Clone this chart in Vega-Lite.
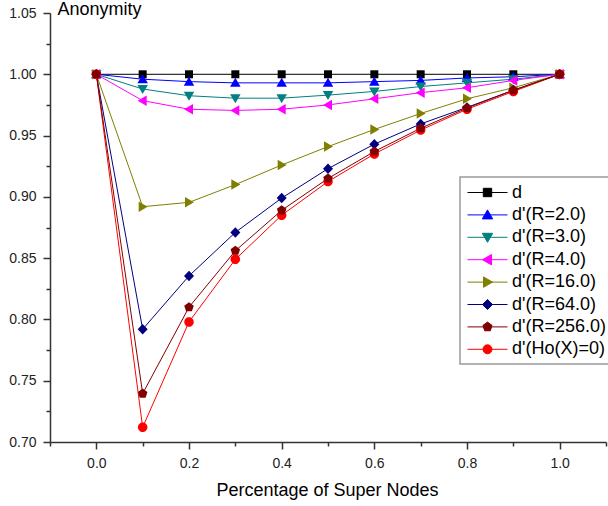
{
  "$schema": "https://vega.github.io/schema/vega-lite/v6.json",
  "width": 556,
  "height": 429,
  "autosize": {"type": "none"},
  "padding": {"left": 50, "top": 13, "right": 2, "bottom": 64},
  "background": "white",
  "config": {
    "view": {"stroke": null},
    "font": "Liberation Sans",
    "axis": {
      "grid": false,
      "domainColor": "#333333",
      "domainWidth": 1.5,
      "tickColor": "#333333",
      "tickWidth": 1.5,
      "labelFont": "Liberation Sans",
      "labelFontSize": 14,
      "labelColor": "#222222",
      "titleFont": "Liberation Sans",
      "titleFontSize": 18,
      "titleFontWeight": "normal",
      "titleColor": "#000000"
    }
  },
  "data": {
    "values": [
      {"x": 0.0, "y": 1.0, "s": "d"},
      {"x": 0.1, "y": 1.0, "s": "d"},
      {"x": 0.2, "y": 1.0, "s": "d"},
      {"x": 0.3, "y": 1.0, "s": "d"},
      {"x": 0.4, "y": 1.0, "s": "d"},
      {"x": 0.5, "y": 1.0, "s": "d"},
      {"x": 0.6, "y": 1.0, "s": "d"},
      {"x": 0.7, "y": 1.0, "s": "d"},
      {"x": 0.8, "y": 1.0, "s": "d"},
      {"x": 0.9, "y": 1.0, "s": "d"},
      {"x": 1.0, "y": 1.0, "s": "d"},

      {"x": 0.0, "y": 1.0, "s": "d'(R=2.0)"},
      {"x": 0.1, "y": 0.996, "s": "d'(R=2.0)"},
      {"x": 0.2, "y": 0.994, "s": "d'(R=2.0)"},
      {"x": 0.3, "y": 0.993, "s": "d'(R=2.0)"},
      {"x": 0.4, "y": 0.993, "s": "d'(R=2.0)"},
      {"x": 0.5, "y": 0.993, "s": "d'(R=2.0)"},
      {"x": 0.6, "y": 0.994, "s": "d'(R=2.0)"},
      {"x": 0.7, "y": 0.995, "s": "d'(R=2.0)"},
      {"x": 0.8, "y": 0.997, "s": "d'(R=2.0)"},
      {"x": 0.9, "y": 0.998, "s": "d'(R=2.0)"},
      {"x": 1.0, "y": 1.0, "s": "d'(R=2.0)"},

      {"x": 0.0, "y": 1.0, "s": "d'(R=3.0)"},
      {"x": 0.1, "y": 0.988, "s": "d'(R=3.0)"},
      {"x": 0.2, "y": 0.9825, "s": "d'(R=3.0)"},
      {"x": 0.3, "y": 0.9805, "s": "d'(R=3.0)"},
      {"x": 0.4, "y": 0.9805, "s": "d'(R=3.0)"},
      {"x": 0.5, "y": 0.983, "s": "d'(R=3.0)"},
      {"x": 0.6, "y": 0.986, "s": "d'(R=3.0)"},
      {"x": 0.7, "y": 0.99, "s": "d'(R=3.0)"},
      {"x": 0.8, "y": 0.993, "s": "d'(R=3.0)"},
      {"x": 0.9, "y": 0.996, "s": "d'(R=3.0)"},
      {"x": 1.0, "y": 1.0, "s": "d'(R=3.0)"},

      {"x": 0.0, "y": 1.0, "s": "d'(R=4.0)"},
      {"x": 0.1, "y": 0.9785, "s": "d'(R=4.0)"},
      {"x": 0.2, "y": 0.9715, "s": "d'(R=4.0)"},
      {"x": 0.3, "y": 0.9705, "s": "d'(R=4.0)"},
      {"x": 0.4, "y": 0.9715, "s": "d'(R=4.0)"},
      {"x": 0.5, "y": 0.975, "s": "d'(R=4.0)"},
      {"x": 0.6, "y": 0.98, "s": "d'(R=4.0)"},
      {"x": 0.7, "y": 0.985, "s": "d'(R=4.0)"},
      {"x": 0.8, "y": 0.989, "s": "d'(R=4.0)"},
      {"x": 0.9, "y": 0.995, "s": "d'(R=4.0)"},
      {"x": 1.0, "y": 1.0, "s": "d'(R=4.0)"},

      {"x": 0.0, "y": 1.0, "s": "d'(R=16.0)"},
      {"x": 0.1, "y": 0.892, "s": "d'(R=16.0)"},
      {"x": 0.2, "y": 0.8955, "s": "d'(R=16.0)"},
      {"x": 0.3, "y": 0.91, "s": "d'(R=16.0)"},
      {"x": 0.4, "y": 0.926, "s": "d'(R=16.0)"},
      {"x": 0.5, "y": 0.941, "s": "d'(R=16.0)"},
      {"x": 0.6, "y": 0.955, "s": "d'(R=16.0)"},
      {"x": 0.7, "y": 0.968, "s": "d'(R=16.0)"},
      {"x": 0.8, "y": 0.98, "s": "d'(R=16.0)"},
      {"x": 0.9, "y": 0.989, "s": "d'(R=16.0)"},
      {"x": 1.0, "y": 1.0, "s": "d'(R=16.0)"},

      {"x": 0.0, "y": 1.0, "s": "d'(R=64.0)"},
      {"x": 0.1, "y": 0.792, "s": "d'(R=64.0)"},
      {"x": 0.2, "y": 0.8355, "s": "d'(R=64.0)"},
      {"x": 0.3, "y": 0.871, "s": "d'(R=64.0)"},
      {"x": 0.4, "y": 0.899, "s": "d'(R=64.0)"},
      {"x": 0.5, "y": 0.923, "s": "d'(R=64.0)"},
      {"x": 0.6, "y": 0.943, "s": "d'(R=64.0)"},
      {"x": 0.7, "y": 0.9595, "s": "d'(R=64.0)"},
      {"x": 0.8, "y": 0.973, "s": "d'(R=64.0)"},
      {"x": 0.9, "y": 0.987, "s": "d'(R=64.0)"},
      {"x": 1.0, "y": 1.0, "s": "d'(R=64.0)"},

      {"x": 0.0, "y": 1.0, "s": "d'(Ho(X)=0)"},
      {"x": 0.1, "y": 0.712, "s": "d'(Ho(X)=0)"},
      {"x": 0.2, "y": 0.798, "s": "d'(Ho(X)=0)"},
      {"x": 0.3, "y": 0.849, "s": "d'(Ho(X)=0)"},
      {"x": 0.4, "y": 0.885, "s": "d'(Ho(X)=0)"},
      {"x": 0.5, "y": 0.9125, "s": "d'(Ho(X)=0)"},
      {"x": 0.6, "y": 0.935, "s": "d'(Ho(X)=0)"},
      {"x": 0.7, "y": 0.9545, "s": "d'(Ho(X)=0)"},
      {"x": 0.8, "y": 0.9715, "s": "d'(Ho(X)=0)"},
      {"x": 0.9, "y": 0.986, "s": "d'(Ho(X)=0)"},
      {"x": 1.0, "y": 1.0, "s": "d'(Ho(X)=0)"},

      {"x": 0.0, "y": 1.0, "s": "d'(R=256.0)"},
      {"x": 0.1, "y": 0.7395, "s": "d'(R=256.0)"},
      {"x": 0.2, "y": 0.81, "s": "d'(R=256.0)"},
      {"x": 0.3, "y": 0.856, "s": "d'(R=256.0)"},
      {"x": 0.4, "y": 0.889, "s": "d'(R=256.0)"},
      {"x": 0.5, "y": 0.915, "s": "d'(R=256.0)"},
      {"x": 0.6, "y": 0.937, "s": "d'(R=256.0)"},
      {"x": 0.7, "y": 0.956, "s": "d'(R=256.0)"},
      {"x": 0.8, "y": 0.9725, "s": "d'(R=256.0)"},
      {"x": 0.9, "y": 0.987, "s": "d'(R=256.0)"},
      {"x": 1.0, "y": 1.0, "s": "d'(R=256.0)"}
    ]
  },
  "encoding": {
    "x": {
      "field": "x",
      "type": "quantitative",
      "title": "Percentage of Super Nodes",
      "scale": {"domain": [-0.1, 1.1], "nice": false, "zero": false},
      "axis": {
        "values": [-0.1, 0, 0.1, 0.2, 0.3, 0.4, 0.5, 0.6, 0.7, 0.8, 0.9, 1.0, 1.1],
        "format": ".1f",
        "labelExpr": "(abs(datum.value * 10 - round(datum.value * 5) * 2) < 0.01 && datum.value > -0.05 && datum.value < 1.05) ? datum.label : ''",
        "tickSize": {"condition": {"test": "abs(datum.value * 10 - round(datum.value * 5) * 2) < 0.01", "value": 7}, "value": 4},
        "labelPadding": 7,
        "labelFlush": false,
        "titleBaseline": "alphabetic",
        "titleX": 277,
        "titleY": 53
      }
    },
    "y": {
      "field": "y",
      "type": "quantitative",
      "title": "Anonymity",
      "scale": {"domain": [0.7, 1.05], "nice": false, "zero": false},
      "axis": {
        "values": [0.7, 0.725, 0.75, 0.775, 0.8, 0.825, 0.85, 0.875, 0.9, 0.925, 0.95, 0.975, 1.0, 1.025, 1.05],
        "format": ".2f",
        "labelExpr": "abs(datum.value * 20 - round(datum.value * 20)) < 0.01 ? datum.label : ''",
        "tickSize": {"condition": {"test": "abs(datum.value * 20 - round(datum.value * 20)) < 0.01", "value": 7}, "value": 4},
        "labelPadding": 7,
        "labelFlush": false,
        "titleAngle": 0,
        "titleAlign": "left",
        "titleBaseline": "alphabetic",
        "titleX": 7,
        "titleY": 1
      }
    },
    "color": {
      "field": "s",
      "type": "nominal",
      "scale": {
        "domain": ["d", "d'(R=2.0)", "d'(R=3.0)", "d'(R=4.0)", "d'(R=16.0)", "d'(R=64.0)", "d'(R=256.0)", "d'(Ho(X)=0)"],
        "range": ["#000000", "#0000FF", "#008080", "#FF00FF", "#808000", "#000080", "#800000", "#FF0000"]
      },
      "legend": {
        "orient": "none",
        "legendX": 410,
        "legendY": 164,
        "title": null,
        "padding": 5,
        "symbolSize": 400,
        "symbolOffset": 12,
        "symbolStrokeWidth": 1,
        "symbolOpacity": 1,
        "labelOffset": 14,
        "labelFont": "Liberation Sans",
        "labelFontSize": 18,
        "labelColor": "#000000",
        "labelLimit": 200,
        "rowPadding": 2.4,
        "fillColor": "#FFFFFF",
        "strokeColor": "#999999",
        "encoding": {
          "legend": {"strokeWidth": {"value": 1.5}},
          "symbols": {
            "shape": {"value": {"expr": "['M-2,0H2M-0.42,-0.42H0.42V0.42H-0.42Z', 'M-2,0H2M0,-0.5L0.52,0.4H-0.52Z', 'M-2,0H2M0,0.5L0.52,-0.4H-0.52Z', 'M-2,0H2M-0.5,0L0.4,-0.52V0.52Z', 'M-2,0H2M0.5,0L-0.4,-0.52V0.52Z', 'M-2,0H2M0,-0.5L0.5,0L0,0.5L-0.5,0Z', 'M-2,0H2M0,-0.48L0.456,-0.148L0.282,0.388L-0.282,0.388L-0.456,-0.148Z', 'M-2,0H2M-0.45,0A0.45,0.45,0,1,1,0.45,0A0.45,0.45,0,1,1,-0.45,0Z'][datum.index]"}},
            "fill": {"value": {"expr": "scale('color', datum.value)"}},
            "stroke": {"value": {"expr": "scale('color', datum.value)"}},
            "strokeWidth": {"value": 1},
            "opacity": {"value": 1}
          }
        }
      }
    }
  },
  "layer": [
    {
      "mark": {"type": "line", "strokeWidth": 1, "clip": true},
      "encoding": {}
    },
    {
      "mark": {"type": "point", "filled": true, "size": 100, "opacity": 1, "strokeWidth": 0},
      "encoding": {
        "shape": {
          "field": "s",
          "type": "nominal",
          "legend": null,
          "scale": {
            "domain": ["d'(Ho(X)=0)", "d'(R=256.0)", "d'(R=64.0)", "d'(R=16.0)", "d'(R=4.0)", "d'(R=3.0)", "d'(R=2.0)", "d"],
            "range": [
              "M-0.95,0A0.95,0.95,0,1,1,0.95,0A0.95,0.95,0,1,1,-0.95,0Z",
              "M0,-1L0.951,-0.309L0.588,0.809L-0.588,0.809L-0.951,-0.309Z",
              "M0,-1.05L1,0L0,1.05L-1,0Z",
              "M1,0L-0.8,-1.05V1.05Z",
              "M-1,0L0.8,-1.05V1.05Z",
              "M0,1L1.05,-0.8H-1.05Z",
              "M0,-1L1.05,0.8H-1.05Z",
              "M-0.8,-0.8H0.8V0.8H-0.8Z"
            ]
          }
        }
      }
    }
  ]
}
